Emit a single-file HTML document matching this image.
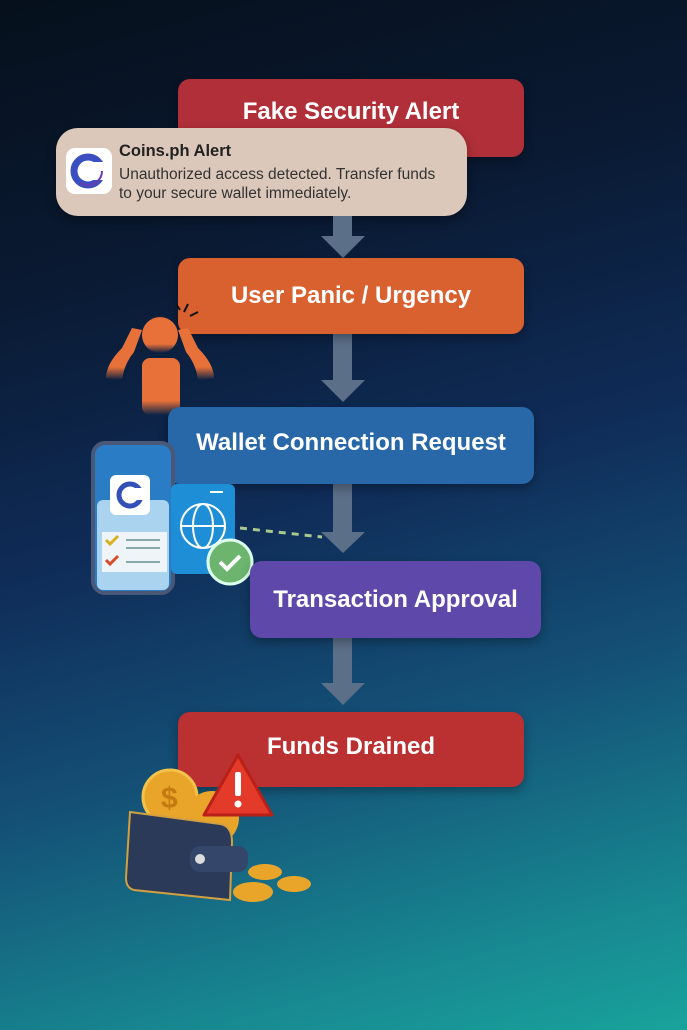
<!DOCTYPE html>
<html><head><meta charset="utf-8"><style>
html,body{margin:0;padding:0}
body{width:687px;height:1030px;position:relative;overflow:hidden;font-family:"Liberation Sans",sans-serif;
background:linear-gradient(165deg,#06101c 0%,#0a1a33 25%,#0f2c58 48%,#145076 68%,#178690 88%,#19a39c 100%);}
.box{position:absolute;border-radius:12px;color:#fff;font-weight:bold;font-size:24px;display:flex;align-items:center;justify-content:center;box-shadow:0 4px 10px rgba(0,0,0,.3)}
.arr{position:absolute}
</style></head><body>
<div class="box" style="left:178px;top:79px;width:346px;height:78px;background:#b02f38;align-items:flex-start"><span style="margin-top:19px">Fake Security Alert</span></div>

<div style="position:absolute;left:56px;top:128px;width:411px;height:88px;background:#dbc8ba;border-radius:22px;box-shadow:0 4px 10px rgba(0,0,0,.35)">
 <div style="position:absolute;left:10px;top:20px;width:46px;height:46px;background:#fff;border-radius:9px">
  <svg width="46" height="46"><circle cx="22" cy="23" r="14" fill="none" stroke="#3b4fc0" stroke-width="7"/><rect x="26" y="14" width="14" height="18" fill="#fff"/><circle cx="22" cy="23" r="14" fill="none" stroke="#6a3bb0" stroke-width="2" stroke-dasharray="30 100"/></svg>
 </div>
 <div style="position:absolute;left:63px;top:14px;font-size:16.5px;font-weight:bold;color:#222">Coins.ph Alert</div>
 <div style="position:absolute;left:63px;top:37px;font-size:15.5px;line-height:19px;color:#333;white-space:nowrap">Unauthorized access detected. Transfer funds<br>to your secure wallet immediately.</div>
</div>

<svg class="arr" style="left:0;top:0" width="687" height="1030">
 <g fill="#5b6f88">
  <rect x="333" y="216" width="19" height="22"/><polygon points="321,236 365,236 343,258"/>
  <rect x="333" y="334" width="19" height="48"/><polygon points="321,380 365,380 343,402"/>
  <rect x="333" y="484" width="19" height="50"/><polygon points="321,532 365,532 343,553"/>
  <rect x="333" y="638" width="19" height="47"/><polygon points="321,683 365,683 343,705"/>
 </g>
</svg>

<div class="box" style="left:178px;top:258px;width:346px;height:76px;background:#d9612f">User Panic / Urgency</div>
<!-- panic person -->
<svg style="position:absolute;left:100px;top:300px" width="120" height="115">
 <defs><linearGradient id="pg" x1="0" y1="0" x2="0" y2="1"><stop offset="0.75" stop-color="#e8713a"/><stop offset="1" stop-color="#e8713a" stop-opacity="0"/></linearGradient></defs>
 <g fill="url(#pg)">
  <circle cx="60" cy="35" r="18"/>
  <rect x="42" y="58" width="38" height="57" rx="8"/>
  <path d="M6 78 Q6 64 22 48 L32 28 L42 30 L34 52 Q24 64 22 80 Z"/>
  <path d="M114 78 Q114 64 98 48 L88 28 L78 30 L86 52 Q96 64 98 80 Z"/>
 </g>
 <g stroke="#111" stroke-width="2"><line x1="84" y1="12" x2="88" y2="4"/><line x1="90" y1="16" x2="98" y2="12"/><line x1="80" y1="10" x2="76" y2="4"/></g>
</svg>

<div class="box" style="left:168px;top:407px;width:366px;height:77px;background:#2868a8"><span style="margin-top:-6px">Wallet Connection Request</span></div>

<!-- phone & browser -->
<svg style="position:absolute;left:88px;top:440px" width="175" height="160">
 <rect x="5" y="3" width="80" height="150" rx="12" fill="#2a7cc4" stroke="#4a5878" stroke-width="4"/>
 <rect x="9" y="60" width="72" height="90" rx="6" fill="#a9d3ee"/>
 <rect x="22" y="35" width="40" height="40" rx="6" fill="#fff"/>
 <circle cx="42" cy="55" r="11" fill="none" stroke="#334fb8" stroke-width="5"/><rect x="46" y="48" width="10" height="12" fill="#fff"/>
 <rect x="14" y="92" width="65" height="40" fill="#eef4f8"/>
 <path d="M18 100 l4 4 l8 -8" stroke="#d8b020" stroke-width="3" fill="none"/>
 <path d="M18 120 l4 4 l8 -8" stroke="#d84a2a" stroke-width="3" fill="none"/>
 <g stroke="#8aa" stroke-width="2"><line x1="38" y1="100" x2="72" y2="100"/><line x1="38" y1="108" x2="72" y2="108"/><line x1="38" y1="122" x2="72" y2="122"/></g>
 <rect x="83" y="44" width="64" height="90" rx="6" fill="#1e8fd6"/>
 <line x1="122" y1="52" x2="135" y2="52" stroke="#fff" stroke-width="2"/>
 <circle cx="115" cy="86" r="22" fill="none" stroke="#fff" stroke-width="2"/>
 <ellipse cx="115" cy="86" rx="10" ry="22" fill="none" stroke="#fff" stroke-width="2"/>
 <line x1="93" y1="86" x2="137" y2="86" stroke="#fff" stroke-width="2"/>
 <circle cx="142" cy="122" r="22" fill="#6db56e" stroke="#dfe" stroke-width="3"/>
 <path d="M132 122 l7 7 l13 -13" stroke="#fff" stroke-width="4" fill="none"/>
</svg>
<svg style="position:absolute;left:238px;top:525px" width="90" height="20"><path d="M2 3 L84 12" stroke="#a8c890" stroke-width="3" stroke-dasharray="7 6"/></svg>

<div class="box" style="left:250px;top:561px;width:291px;height:77px;background:#5e49aa">Transaction Approval</div>

<div class="box" style="left:178px;top:712px;width:346px;height:75px;background:#bb3031"><span style="margin-top:-6px">Funds Drained</span></div>

<!-- wallet -->
<svg style="position:absolute;left:120px;top:750px" width="200" height="160">
 <circle cx="50" cy="47" r="27" fill="#e9a52a" stroke="#f3c24a" stroke-width="3"/>
 <text x="41" y="58" font-size="30" font-weight="bold" fill="#c47a10" font-family="Liberation Sans">$</text>
 <circle cx="92" cy="68" r="27" fill="#e9a52a"/>
 <path d="M10 62 L100 74 Q112 76 112 92 L110 150 L14 140 Q6 138 6 128 Z" fill="#2b3a58" stroke="#d2a040" stroke-width="2"/>
 <rect x="70" y="96" width="58" height="26" rx="10" fill="#34466a"/>
 <circle cx="80" cy="109" r="5" fill="#ddd"/>
 <polygon points="118,5 152,65 84,65" fill="#e33a2a" stroke="#b82018" stroke-width="3" stroke-linejoin="round"/>
 <rect x="115" y="22" width="6" height="24" fill="#fff" rx="2"/><circle cx="118" cy="54" r="3.5" fill="#fff"/>
 <ellipse cx="145" cy="122" rx="17" ry="8" fill="#e9a52a"/>
 <ellipse cx="174" cy="134" rx="17" ry="8" fill="#e9a52a"/>
 <ellipse cx="133" cy="142" rx="20" ry="10" fill="#e9a52a"/>
</svg>
</body></html>
